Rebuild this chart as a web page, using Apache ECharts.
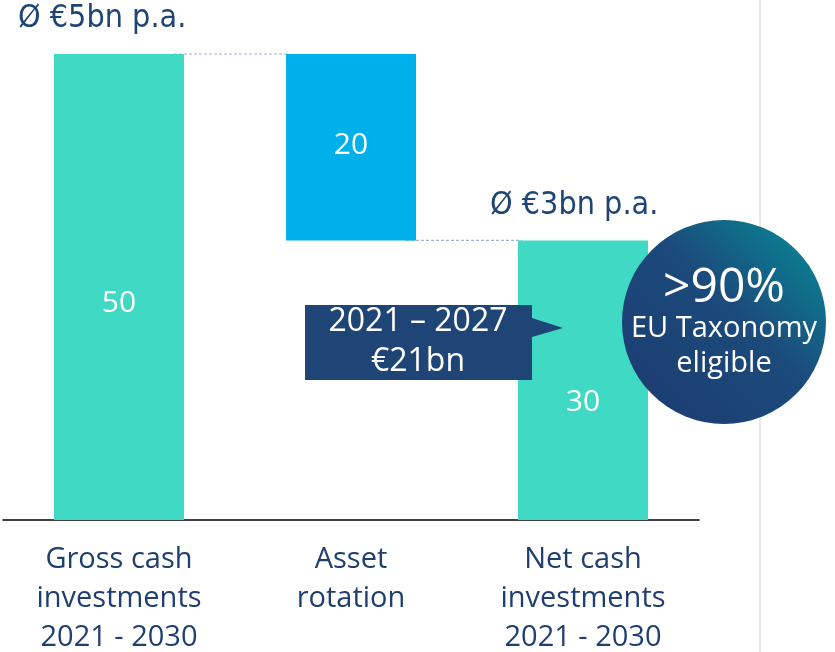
<!DOCTYPE html>
<html>
<head>
<meta charset="utf-8">
<script src="https://cdn.jsdelivr.net/npm/echarts@6/dist/echarts.min.js"></script>
<style>
html, body { margin: 0; padding: 0; background: #fff; }
#chart { width: 835px; height: 652px; }
</style>
</head>
<body>
<div id="chart"></div>
<script>
"use strict";

/*****Data start*****/
var categories = ['Gross cash\ninvestments\n2021 - 2030', 'Asset\nrotation', 'Net cash\ninvestments\n2021 - 2030'];
var baseValues = [0, 30, 0];
var barValues = [50, 20, 30];
var barColors = ['#40d9c4', '#00b0eb', '#40d9c4'];
var labelOffsets = [16, -2, 22];
var connectors = [[0, 50], [1, 30]];
/*****Data end*****/

var navy = '#1f4577';
var font = "'Open Sans', 'Noto Sans', sans-serif";
var narrow = "'Liberation Sans Narrow', 'DejaVu Sans Condensed', sans-serif";
var barWidth = 130;

var chart = echarts.init(document.getElementById('chart'));

var option = {
	animation: false,
	grid: { left: 3, right: 136, top: 54, bottom: 132, outerBoundsMode: 'none' },
	xAxis: {
		type: 'category',
		data: categories,
		axisTick: { show: false },
		axisLine: { lineStyle: { color: '#000', width: 1.5 } },
		axisLabel: {
			color: '#1f3f6e',
			fontFamily: font,
			fontSize: 29,
			lineHeight: 39,
			margin: 20,
			interval: 0
		}
	},
	yAxis: {
		type: 'value',
		min: 0,
		max: 50,
		show: false,
		splitLine: { show: false }
	},
	series: [
		{
			type: 'bar',
			stack: 'wf',
			barWidth: barWidth,
			itemStyle: { color: 'transparent' },
			data: baseValues,
			silent: true
		},
		{
			type: 'bar',
			stack: 'wf',
			barWidth: barWidth,
			data: barValues.map(function (v, i) {
				return {
					value: v,
					itemStyle: { color: barColors[i] },
					label: { offset: [0, labelOffsets[i]] }
				};
			}),
			label: {
				show: true,
				position: 'inside',
				color: '#fff',
				fontFamily: font,
				fontSize: 30
			}
		},
		{
			type: 'custom',
			data: connectors,
			z: 1,
			renderItem: function (params, api) {
				var p1 = api.coord([api.value(0), api.value(1)]);
				var p2 = api.coord([api.value(0) + 1, api.value(1)]);
				return {
					type: 'line',
					shape: { x1: p1[0] + barWidth / 2 - 10, y1: p1[1], x2: p2[0] - barWidth / 2 + 4, y2: p2[1] },
					style: { stroke: '#9fb3cf', lineWidth: 1.2, lineDash: [3, 2] }
				};
			}
		}
	],
	graphic: [
		{ type: 'rect', shape: { x: 759, y: 0, width: 2, height: 652 }, style: { fill: '#e8e8e6' } },
		{ type: 'text', left: 18, top: 3, style: { text: 'Ø €5bn p.a.', fill: navy, font: '32px ' + narrow } },
		{ type: 'text', left: 490, top: 190, style: { text: 'Ø €3bn p.a.', fill: navy, font: '32px ' + narrow } },
		{
			type: 'polygon',
			z: 100,
			shape: { points: [[305, 305], [532, 305], [532, 318], [563, 328], [532, 337], [532, 380], [305, 380]] },
			style: { fill: navy }
		},
		{ type: 'text', x: 418, y: 322, z: 101, style: { text: '2021 – 2027', fill: '#fff', font: '32px ' + font, align: 'center', verticalAlign: 'middle' } },
		{ type: 'text', x: 418, y: 362, z: 101, style: { text: '€21bn', fill: '#fff', font: '32px ' + font, align: 'center', verticalAlign: 'middle' } },
		{
			type: 'circle',
			z: 100,
			shape: { cx: 724, cy: 322, r: 102 },
			style: {
				fill: new echarts.graphic.LinearGradient(0, 1, 1, 0, [
					{ offset: 0, color: '#1d3b70' },
					{ offset: 0.55, color: '#1b4a7b' },
					{ offset: 1, color: '#06909a' }
				])
			}
		},
		{ type: 'text', x: 724, y: 288, z: 101, style: { text: '>90%', fill: '#fff', font: '48px ' + font, align: 'center', verticalAlign: 'middle' } },
		{ type: 'text', x: 724, y: 329, z: 101, style: { text: 'EU Taxonomy', fill: '#fff', font: '29px ' + font, align: 'center', verticalAlign: 'middle' } },
		{ type: 'text', x: 724, y: 364, z: 101, style: { text: 'eligible', fill: '#fff', font: '29px ' + font, align: 'center', verticalAlign: 'middle' } }
	]
};

chart.setOption(option);
</script>
</body>
</html>
